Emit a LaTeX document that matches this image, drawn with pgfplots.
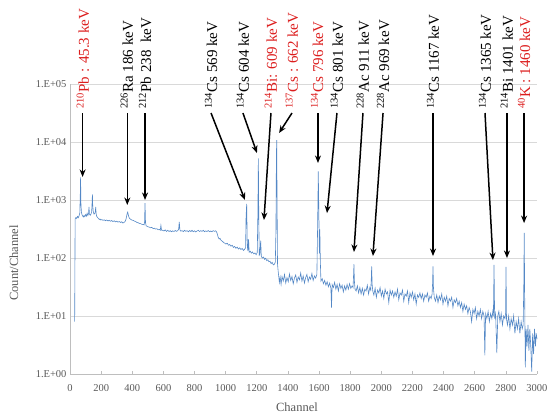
\documentclass[border=0pt]{standalone}
\usepackage{pgfplots}
\pgfplotsset{compat=1.18}
\usepackage{fontspec}
\setmainfont{Liberation Serif}
\usetikzlibrary{arrows.meta}
\definecolor{spec}{RGB}{84,136,198}
\definecolor{lblred}{RGB}{220,30,30}
\definecolor{tickgray}{RGB}{89,89,89}
\definecolor{gridgray}{RGB}{217,217,217}
\definecolor{axgray}{RGB}{190,190,190}
\begin{document}
\begin{tikzpicture}[
  pk/.style={rotate=90, anchor=west, inner sep=0pt, font=\fontsize{15}{15}\selectfont},
  arr/.style={-{Stealth[length=7.5pt,width=6pt]}, line width=1.5pt, black},
]
\useasboundingbox (0,0) rectangle (547pt,415pt);
\begin{axis}[
  at={(70pt,41pt)}, anchor=south west,
  width=467pt, height=290pt, scale only axis,
  xmin=0, xmax=3000, ymin=1, ymax=100000,
  ymode=log, yminorticks=false,
  xtick={0,200,400,600,800,1000,1200,1400,1600,1800,2000,2200,2400,2600,2800,3000},
  xticklabels={0,200,400,600,800,1000,1200,1400,1600,1800,2000,2200,2400,2600,2800,3000},
  ytick={1,10,100,1000,10000,100000},
  yticklabels={1.E+00,1.E+01,1.E+02,1.E+03,1.E+04,1.E+05},
  ymajorgrids, grid style={gridgray, line width=0.8pt},
  axis x line*=bottom, axis y line*=left,
  axis line style={axgray, line width=0.8pt, -},
  xtick style={axgray, line width=0.6pt}, tick align=inside, major tick length=3pt,
  ytick style={draw=none},
  ticklabel style={font=\fontsize{10.5}{12}\selectfont, text=tickgray},
  xticklabel style={yshift=-7pt},
  xlabel={Channel}, ylabel={Count/Channel},
  label style={font=\fontsize{12.5}{14}\selectfont, text=tickgray},
  xlabel style={at={(axis description cs:0.486,-0.114)}, anchor=center},
  ylabel style={at={(axis description cs:-0.12,0.383)}, anchor=center},
  clip=false,
]
\addplot[spec, line width=0.6pt, mark=none] table {
x y
30 8
33 470
38 500
43 480
48 520
53 495
58 530
63 600
66 1200
68 2450
70 900
73 620
77 560
81 530
86 510
90 540
95 515
100 560
105 525
110 590
115 540
119 580
122 760
125 570
130 545
135 575
139 620
142 900
144 1250
146 800
150 610
155 570
160 590
163 640
165 760
168 580
172 520
178 495
183 480
188 462
193 470
198 452
205 460
212 446
220 455
228 440
236 452
244 435
252 448
260 430
268 442
276 425
284 438
292 420
300 432
308 415
316 426
324 410
332 420
340 400
348 412
355 430
360 470
364 530
368 600
371 620
374 560
378 510
383 480
390 465
398 450
406 445
414 432
422 425
430 410
438 405
446 395
454 390
462 380
470 378
476 372
479 420
482 880
485 410
489 360
495 352
502 345
510 340
518 332
526 338
534 322
542 326
550 315
558 320
566 306
574 312
580 300
584 365
588 302
596 300
604 292
612 305
620 288
628 300
636 286
644 296
652 283
660 294
668 286
676 298
684 288
692 296
698 315
702 420
706 305
712 290
720 296
728 285
736 300
744 288
752 296
760 283
768 298
776 286
784 300
792 284
800 294
808 282
816 292
824 300
832 286
840 296
848 288
856 300
864 284
872 293
880 286
888 298
896 283
904 292
912 284
920 296
928 288
936 294
942 280
947 255
952 228
958 212
964 218
970 202
978 195
986 186
994 180
1002 174
1010 180
1018 166
1026 171
1034 160
1042 166
1050 152
1058 158
1066 147
1074 154
1082 143
1090 150
1098 140
1106 146
1114 135
1122 142
1128 150
1131 500
1135 860
1139 160
1143 132
1147 210
1151 126
1158 131
1165 121
1172 127
1180 118
1188 122
1196 114
1203 125
1207 600
1210 5200
1213 400
1216 112
1220 118
1225 200
1229 106
1236 100
1243 104
1250 95
1257 99
1264 90
1271 93
1278 86
1285 88
1292 80
1299 84
1306 76
1313 78
1319 85
1323 300
1326 6000
1328 10800
1330 1200
1333 80
1337 60
1341 48
1345 38
1350 47
1356 35
1362 48
1370 40
1378 52
1386 37
1394 46
1402 39
1410 53
1418 41
1426 48
1434 36
1442 45
1450 51
1458 38
1466 47
1474 42
1482 55
1490 40
1498 49
1506 37
1514 46
1522 52
1530 39
1538 47
1546 43
1554 54
1562 41
1570 49
1578 45
1586 52
1591 400
1595 3100
1598 800
1602 120
1605 310
1608 90
1612 40
1620 44
1628 36
1636 41
1644 34
1652 39
1660 32
1668 37
1676 30
1680 14
1684 35
1692 31
1700 38
1708 29
1716 35
1724 27
1732 36
1740 30
1748 34
1756 26
1764 33
1772 28
1780 35
1788 29
1796 36
1804 30
1812 33
1818 31
1821 45
1824 78
1827 40
1831 29
1838 27
1846 33
1854 25
1862 31
1870 24
1878 30
1886 23
1894 29
1902 27
1910 34
1918 24
1926 31
1932 28
1935 40
1938 72
1941 35
1945 27
1952 23
1960 30
1968 21
1976 28
1984 25
1992 31
2000 22
2008 27
2016 20
2024 29
2032 24
2040 26
2048 17
2056 28
2064 23
2072 27
2080 21
2088 26
2096 22
2104 29
2112 19
2120 25
2128 23
2136 28
2144 18
2152 24
2160 22
2168 27
2176 17
2184 25
2192 21
2200 26
2208 19
2216 24
2224 16
2232 23
2240 21
2248 25
2256 20
2264 24
2272 18
2280 23
2288 21
2296 25
2304 18
2312 22
2320 20
2326 24
2329 35
2332 72
2335 30
2340 21
2348 18
2356 23
2364 17
2372 22
2380 19
2388 24
2396 16
2404 21
2412 18
2420 22
2428 15
2436 20
2444 18
2452 21
2460 14
2468 19
2476 17
2484 20
2492 15
2500 18
2508 14
2516 17
2524 12
2532 16
2540 13
2548 15
2556 11
2564 14
2572 12
2580 8
2588 13
2596 11
2604 14
2612 9
2620 12
2628 10
2636 13
2644 9
2652 12
2660 10
2665 2.1
2670 11
2678 9
2686 12
2694 8
2702 11
2710 9
2716 12
2720 10
2724 76
2728 9
2734 11
2742 2.3
2748 10
2755 12
2762 8
2770 11
2778 7
2786 10
2794 9
2798 11
2801 70
2804 9
2810 7
2818 10
2826 6
2834 9
2842 7
2850 10
2858 5
2866 8
2874 6
2882 9
2890 5
2898 8
2905 6
2911 7
2915 30
2918 270
2921 20
2925 1.3
2930 6
2936 3
2942 7
2948 2.5
2954 6
2960 3
2966 1.1
2972 5
2978 2.2
2984 6
2990 3
2995 5
3000 4
};
% labels
\node[pk] at (axis cs:83,37100) {\textcolor{lblred}{\textsuperscript{210}Pb : 45.3 keV}};
\node[pk] at (axis cs:366,37100) {\textsuperscript{226}Ra 186 keV};
\node[pk] at (axis cs:482,37100) {\textsuperscript{212}Pb 238\ \ keV};
\node[pk] at (axis cs:906,37100) {\textsuperscript{134}Cs 569 keV};
\node[pk] at (axis cs:1111,37100) {\textsuperscript{134}Cs 604 keV};
\node[pk] at (axis cs:1291,37100) {\textcolor{lblred}{\textsuperscript{214}Bi: 609 keV}};
\node[pk] at (axis cs:1426,37100) {\textcolor{lblred}{\textsuperscript{137}Cs : 662 keV}};
\node[pk] at (axis cs:1587,37100) {\textcolor{lblred}{\textsuperscript{134}Cs 796 keV}};
\node[pk] at (axis cs:1715,37100) {\textsuperscript{134}Cs 801 keV};
\node[pk] at (axis cs:1882,37100) {\textsuperscript{228}Ac 911 keV};
\node[pk] at (axis cs:2011,37100) {\textsuperscript{228}Ac 969 keV};
\node[pk] at (axis cs:2332,37100) {\textsuperscript{134}Cs 1167 keV};
\node[pk] at (axis cs:2666,37100) {\textsuperscript{134}Cs 1365 keV};
\node[pk] at (axis cs:2807,37100) {\textsuperscript{214}Bi 1401 keV};
\node[pk] at (axis cs:2917,37100) {\textcolor{lblred}{\textsuperscript{40}K : 1460 keV}};
% arrows
\draw[arr] (axis cs:81,31600) -- (axis cs:81,2500);
\draw[arr] (axis cs:368,31600) -- (axis cs:368,820);
\draw[arr] (axis cs:482,31600) -- (axis cs:482,1000);
\draw[arr] (axis cs:906,31600) -- (axis cs:1124,1000);
\draw[arr] (axis cs:1111,31600) -- (axis cs:1201,6450);
\draw[arr] (axis cs:1291,31600) -- (axis cs:1246,452);
\draw[arr] (axis cs:1426,31600) -- (axis cs:1343,14300);
\draw[arr] (axis cs:1593,31600) -- (axis cs:1593,4350);
\draw[arr] (axis cs:1715,31600) -- (axis cs:1651,595);
\draw[arr] (axis cs:1882,31600) -- (axis cs:1824,127);
\draw[arr] (axis cs:2011,31600) -- (axis cs:1946,108);
\draw[arr] (axis cs:2332,31600) -- (axis cs:2332,108);
\draw[arr] (axis cs:2666,31600) -- (axis cs:2717,92);
\draw[arr] (axis cs:2807,31600) -- (axis cs:2807,100);
\draw[arr] (axis cs:2917,31600) -- (axis cs:2917,400);
\end{axis}
\end{tikzpicture}
\end{document}
